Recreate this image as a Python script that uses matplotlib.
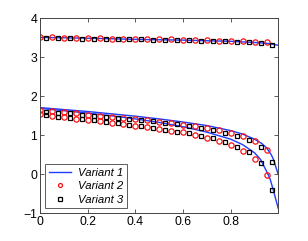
import numpy as np
import matplotlib
matplotlib.use('Agg')
import matplotlib.pyplot as plt

plt.rcParams['font.family'] = ['Liberation Sans', 'DejaVu Sans']

# ---- data ----
x_red = np.arange(20) * 0.05            # 0, 0.05, ..., 0.95
x_blk = 0.025 + np.arange(20) * 0.05    # 0.025, ..., 0.975

red_top = [3.51, 3.51, 3.50, 3.50, 3.49, 3.49, 3.48, 3.48, 3.47, 3.47,
           3.46, 3.46, 3.45, 3.45, 3.44, 3.43, 3.42, 3.41, 3.40, 3.38]
red_up = [1.65, 1.62, 1.59, 1.56, 1.53, 1.50, 1.47, 1.44, 1.41, 1.38,
          1.35, 1.31, 1.27, 1.23, 1.19, 1.14, 1.07, 0.97, 0.85, 0.62]
red_lo = [1.55, 1.50, 1.47, 1.43, 1.39, 1.37, 1.32, 1.29, 1.24, 1.21,
          1.17, 1.12, 1.08, 1.00, 0.93, 0.85, 0.74, 0.60, 0.39, -0.03]

blk_top = [3.50, 3.49, 3.49, 3.48, 3.48, 3.47, 3.47, 3.46, 3.46, 3.45,
           3.45, 3.44, 3.44, 3.43, 3.42, 3.41, 3.40, 3.38, 3.36, 3.32]
blk_up = [1.61, 1.58, 1.56, 1.53, 1.50, 1.48, 1.45, 1.43, 1.39, 1.36,
          1.32, 1.28, 1.24, 1.19, 1.14, 1.07, 0.99, 0.88, 0.71, 0.31]
blk_lo = [1.51, 1.48, 1.45, 1.41, 1.38, 1.34, 1.31, 1.26, 1.23, 1.19,
          1.14, 1.09, 1.05, 0.97, 0.92, 0.84, 0.71, 0.56, 0.29, -0.40]

xb_top = [0.0, 0.2, 0.4, 0.6, 0.8, 0.9, 0.95, 0.999]
blue_top = [3.51, 3.49, 3.46, 3.44, 3.41, 3.38, 3.36, 3.31]

xb_up = [0.0, 0.1, 0.2, 0.3, 0.4, 0.5, 0.6, 0.7, 0.8, 0.85, 0.9,
         0.93, 0.95, 0.97, 0.98, 0.99, 0.999]
blue_up = [1.71, 1.66, 1.61, 1.55, 1.49, 1.42, 1.34, 1.25, 1.12, 1.03, 0.90,
           0.79, 0.68, 0.50, 0.37, 0.17, 0.00]

xb_lo = [0.0, 0.1, 0.2, 0.3, 0.4, 0.5, 0.6, 0.7, 0.8, 0.85, 0.9,
         0.925, 0.95, 0.965, 0.975, 0.985, 0.995, 0.999]
blue_lo = [1.69, 1.63, 1.57, 1.50, 1.42, 1.33, 1.22, 1.08, 0.90, 0.76, 0.55,
           0.38, 0.08, -0.12, -0.33, -0.55, -0.78, -0.87]

xticks = [0, 0.2, 0.4, 0.6, 0.8]
yticks = [-1, 0, 1, 2, 3, 4]

# ---- figure ----
fig = plt.figure(figsize=(3.08, 2.41), dpi=100, facecolor='white')
ax = fig.add_axes([0.130, 0.115, 0.774, 0.809])

blue = '#1f3cff'
mk = dict(linestyle='none', markerfacecolor='none', markersize=3.8,
          markeredgewidth=0.9)
sq = {**mk, 'markersize': 3.4}

l1, = ax.plot(xb_top, blue_top, color=blue, lw=1.0, label='Variant 1')
ax.plot(xb_up, blue_up, color=blue, lw=1.0)
ax.plot(xb_lo, blue_lo, color=blue, lw=1.0)

l2, = ax.plot(x_red, red_top, marker='o', color='#ff1010', label='Variant 2', **mk)
ax.plot(x_red, red_up, marker='o', color='#ff1010', **mk)
ax.plot(x_red, red_lo, marker='o', color='#ff1010', **mk)

l3, = ax.plot(x_blk, blk_top, marker='s', color='k', label='Variant 3', **sq)
ax.plot(x_blk, blk_up, marker='s', color='k', **sq)
ax.plot(x_blk, blk_lo, marker='s', color='k', **sq)

ax.set_xlim(0, 1.0)
ax.set_ylim(-1, 4)
ax.set_xticks(xticks)
ax.set_xticklabels(['0', '0.2', '0.4', '0.6', '0.8'])
ax.set_yticks(yticks)
ax.set_yticklabels(['\u22121', '0', '1', '2', '3', '4'])
ax.tick_params(direction='in', top=True, right=True, length=3, width=0.6,
               labelsize=8.8, pad=2, color='#444444')
for s in ax.spines.values():
    s.set_color('#444444')
    s.set_linewidth(0.7)

leg = ax.legend(handles=[l1, l2, l3], loc='lower left',
                prop={'style': 'italic', 'size': 8.2},
                frameon=True, fancybox=False, edgecolor='#333333',
                borderpad=0.3, labelspacing=0.3, handlelength=2.0,
                handletextpad=0.6, borderaxespad=0.45, markerscale=0.75)
leg.get_frame().set_linewidth(0.7)

fig.savefig('out.png', dpi=100, facecolor='white')
